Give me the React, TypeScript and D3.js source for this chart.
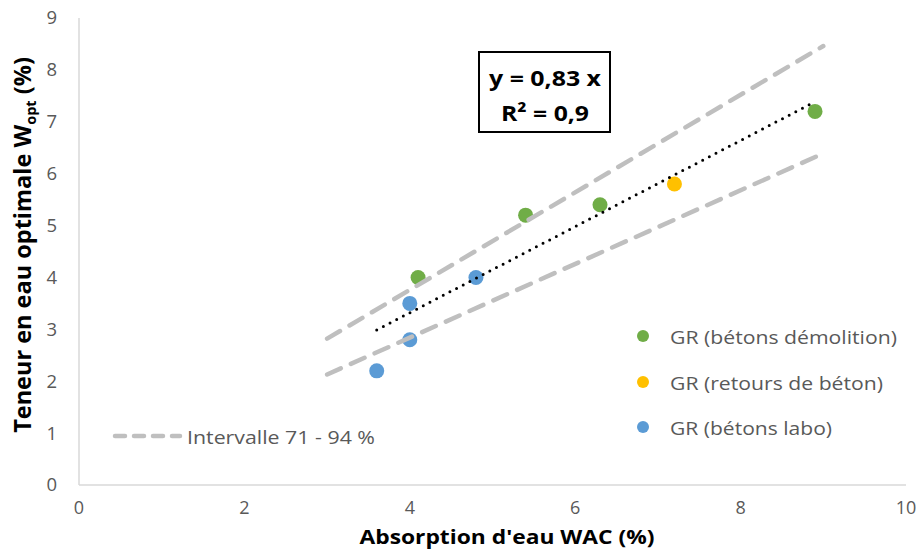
import * as d3 from 'd3';

const width = 920;
const height = 551;
const margin = { top: 18, left: 79, bottom: 66, right: 14 };

// demolition, returned concrete, lab concrete
const greenX = [4.1, 5.4, 6.3, 8.9];
const greenY = [4.0, 5.2, 5.4, 7.2];
const yellowX = [7.2];
const yellowY = [5.8];
const blueX = [3.6, 4.0, 4.0, 4.8];
const blueY = [2.2, 2.8, 3.5, 4.0];

const xTicks = [0, 2, 4, 6, 8, 10];
const yTicks = [0, 1, 2, 3, 4, 5, 6, 7, 8, 9];

const slope = 0.83;
const trendRange = [3.6, 8.9];
const upperSlope = 0.94;
const lowerSlope = 0.71;
const bandRange = [3, 9];

const series = [
  { name: 'GR (bétons démolition)', color: '#70AD47', xs: greenX, ys: greenY, w: 227 },
  { name: 'GR (retours de béton)', color: '#FFC000', xs: yellowX, ys: yellowY, w: 213 },
  { name: 'GR (bétons labo)', color: '#5B9BD5', xs: blueX, ys: blueY, w: 162 },
];

const font = "'Open Sans', 'Noto Sans', sans-serif";
const grey = '#595959';

export default function App() {
  const x = d3.scaleLinear().domain([0, 10]).range([margin.left, width - margin.right]);
  const y = d3.scaleLinear().domain([0, 9]).range([height - margin.bottom, margin.top]);

  const bandLine = (k: number) =>
    d3
      .line<number>()
      .x((d) => x(d))
      .y((d) => y(d * k));

  const trend = bandLine(slope)(trendRange) || '';
  const upper = bandLine(upperSlope)(bandRange) || '';
  const lower = bandLine(lowerSlope)(bandRange) || '';

  const legendY = [336, 382, 427];

  return (
    <svg width={width} height={height} style={{ position: 'absolute', left: 0, top: 0 }}>
      <rect width={width} height={height} fill="#fff" />
      {/* axes */}
      <line x1={x(0)} x2={x(0)} y1={y(9)} y2={y(0)} stroke="#D9D9D9" strokeWidth={1.5} />
      <line x1={x(0)} x2={x(10)} y1={y(0)} y2={y(0)} stroke="#D9D9D9" strokeWidth={1.5} />

      {yTicks.map((t) => (
        <text key={'y' + t} x={57} y={y(t)} dy="0.35em" textAnchor="end" fontFamily={font} fontSize={18.5} fill={grey}>
          {t}
        </text>
      ))}
      {xTicks.map((t) => (
        <text key={'x' + t} x={x(t)} y={508} dy="0.35em" textAnchor="middle" fontFamily={font} fontSize={18} fill={grey}>
          {t}
        </text>
      ))}

      <text x={507} y={544} textAnchor="middle" fontFamily={font} fontWeight="bold" fontSize={20} fill="#000" textLength={295} lengthAdjust="spacingAndGlyphs">
        Absorption d'eau WAC (%)
      </text>
      <text transform="translate(31,245) rotate(-90)" textAnchor="middle" fontFamily={font} fontWeight="bold" fontSize={23.5} fill="#000">
        Teneur en eau optimale W
        <tspan fontSize={14.5} dy={5}>opt</tspan>
        <tspan dy={-5}> (%)</tspan>
      </text>

      {/* points */}
      {series.map((s) =>
        s.xs.map((v, i) => <circle key={s.name + i} cx={x(v)} cy={y(s.ys[i])} r={7.5} fill={s.color} />)
      )}

      {/* interval and trend */}
      <path d={upper} fill="none" stroke="#BFBFBF" strokeWidth={4.5} strokeDasharray="15 11" strokeLinecap="round" />
      <path d={lower} fill="none" stroke="#BFBFBF" strokeWidth={4.5} strokeDasharray="15 11" strokeLinecap="round" />
      <path d={trend} fill="none" stroke="#000" strokeWidth={3} strokeDasharray="0 7.5" strokeLinecap="round" />

      {/* equation box */}
      <rect x={479} y={52} width={131} height={80} fill="#fff" stroke="#000" strokeWidth={2} />
      <text x={545} y={86} textAnchor="middle" fontFamily={font} fontWeight="bold" fontSize={22} fill="#000" textLength={112} lengthAdjust="spacingAndGlyphs">
        y = 0,83 x
      </text>
      <text x={545} y={121} textAnchor="middle" fontFamily={font} fontWeight="bold" fontSize={22} fill="#000" textLength={88} lengthAdjust="spacingAndGlyphs">
        R² = 0,9
      </text>

      {/* legend */}
      {series.map((s, i) => (
        <g key={s.name}>
          <circle cx={643} cy={legendY[i]} r={6} fill={s.color} />
          <text x={670} y={legendY[i] + 1} dy="0.35em" fontFamily={font} fontSize={19} fill={grey} textLength={s.w} lengthAdjust="spacingAndGlyphs">
            {s.name}
          </text>
        </g>
      ))}
      <line x1={115} x2={180} y1={436} y2={436} stroke="#BFBFBF" strokeWidth={4.5} strokeDasharray="10 9" strokeLinecap="round" />
      <text x={187} y={437} dy="0.35em" fontFamily={font} fontSize={19} fill={grey} textLength={188} lengthAdjust="spacingAndGlyphs">
        Intervalle 71 - 94 %
      </text>
    </svg>
  );
}
